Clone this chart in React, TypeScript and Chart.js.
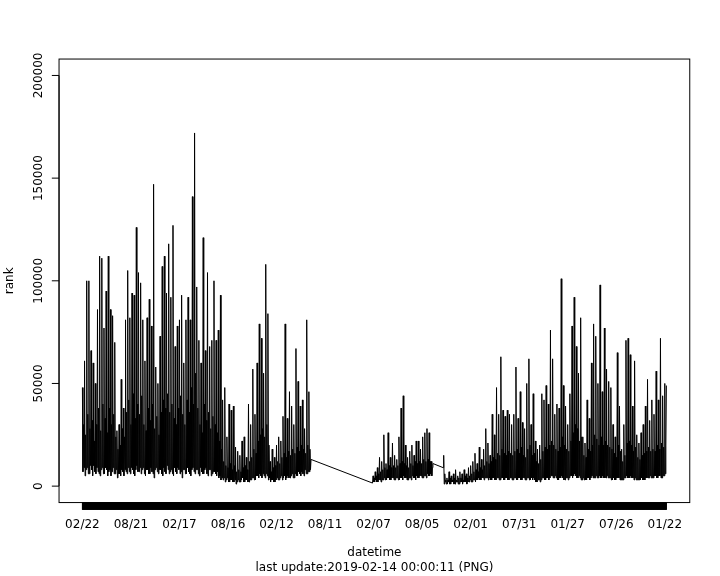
import { useEffect, useRef } from "react";
import { Chart, registerables } from "chart.js";

Chart.register(...registerables);

// ---- data (rank values in thousands, one point every 2 days) ----
const stepDays = 2;
const firstDay = 0; // 2013-02-22
const lastDay = 2166; // last day of the record

const segAStartDay = 0;
const segARank = [
  48, 7, 30, 9, 61, 5, 25, 8, 100, 9, 35, 6, 100, 6, 28, 10, 66, 8, 32, 5,
  60, 10, 22, 7, 50, 6, 30, 9, 86, 7, 38, 6, 112, 5, 27, 8, 111, 9, 40, 6,
  77, 6, 33, 9, 95, 8, 26, 5, 112, 7, 38, 8, 86, 5, 30, 7, 83, 9, 35, 6,
  70, 6, 24, 8, 27, 4, 18, 6, 30, 6, 20, 5, 52, 8, 28, 7, 38, 5, 24, 8,
  81, 7, 36, 6, 105, 9, 42, 7, 82, 6, 30, 9, 94, 8, 45, 6, 93, 5, 33, 8,
  126, 10, 40, 7, 104, 7, 35, 9, 99, 6, 44, 8, 81, 9, 30, 6, 61, 5, 27, 8,
  82, 8, 38, 6, 91, 6, 32, 9, 78, 7, 40, 6, 147, 4, 28, 8, 58, 9, 34, 7,
  50, 6, 25, 8, 73, 8, 36, 6, 107, 5, 42, 9, 112, 7, 38, 6, 94, 10, 45, 8,
  118, 6, 36, 7, 92, 8, 40, 6, 127, 5, 33, 9, 68, 7, 30, 6, 78, 9, 38, 8,
  81, 6, 44, 7, 93, 4, 35, 8, 60, 8, 30, 6, 81, 6, 42, 9, 92, 7, 36, 6,
  81, 5, 48, 8, 141, 9, 40, 7, 172, 6, 55, 8, 97, 8, 38, 6, 71, 5, 30, 9,
  60, 7, 26, 6, 121, 6, 40, 8, 66, 9, 32, 6, 104, 5, 36, 8, 68, 8, 28, 5,
  71, 6, 34, 7, 100, 7, 30, 6, 71, 5, 26, 7, 76, 4, 22, 5, 93, 3, 18, 4,
  42, 3, 12, 4, 48, 2, 10, 3, 24, 4, 9, 2, 40, 2, 11, 3, 37, 3, 8, 2,
  39, 2, 10, 3, 19, 1, 7, 2, 17, 3, 8, 2, 15, 2, 7, 3, 22, 4, 9, 2,
  24, 2, 10, 3, 14, 3, 8, 2, 40, 2, 12, 3, 30, 3, 14, 4, 57, 4, 18, 3,
  35, 3, 16, 5, 60, 5, 22, 4, 79, 6, 25, 5, 72, 4, 28, 6, 55, 5, 24, 4,
  108, 6, 30, 5, 84, 3, 20, 4, 12, 2, 7, 3, 18, 3, 9, 2, 14, 2, 10, 3,
  20, 4, 12, 3, 24, 3, 11, 4, 22, 5, 14, 3, 34, 4, 16, 5, 79, 3, 14, 4,
  33, 5, 17, 4, 46, 4, 15, 5, 39, 6, 18, 4, 30, 4, 16, 6, 67, 5, 19, 5,
  51, 7, 17, 6, 39, 5, 20, 7, 42, 6, 18, 5, 28, 8, 16, 6, 81, 6, 20, 7,
  46, 7, 18, 8, 13,
];

const segBStartDay = 1076;
const segBRank = [
  1.5, 5, 2, 4, 2, 7, 3, 5, 2, 9, 2, 6, 3, 14, 3, 7, 2, 12, 3, 8, 3,
  25, 4, 9, 3, 11, 3, 8, 4, 26, 4, 10, 3, 14, 3, 9, 4, 21, 4, 10, 3,
  15, 3, 9, 4, 13, 4, 10, 3, 24, 3, 11, 4, 38, 4, 12, 3, 44, 5, 11, 4,
  20, 4, 10, 3, 14, 3, 9, 4, 17, 4, 11, 3, 20, 5, 10, 4, 15, 4, 12, 3,
  22, 5, 11, 4, 22, 4, 12, 5, 18, 5, 11, 4, 24, 4, 13, 5, 26, 5, 12, 4,
  28, 6, 13, 5, 26, 5, 12, 6, 12, 5, 9, 11,
];

const segCStartDay = 1338;
const segCRank = [
  9, 15,
  1, 6, 2, 3, 1, 4, 1, 3, 2, 7, 1, 4, 1, 5, 2, 3, 2, 6, 1, 4,
  1, 8, 2, 3, 2, 5, 1, 4, 1, 7, 2, 4, 2, 6, 1, 3, 2, 8, 2, 5,
  2, 6, 1, 4, 2, 9, 2, 5, 3, 10, 2, 6, 2, 12, 3, 7, 3, 16, 2, 8,
  3, 11, 3, 7, 4, 19, 3, 9, 3, 13, 4, 8, 4, 18, 3, 10, 4, 28, 4, 12,
  4, 21, 3, 11, 4, 15, 3, 12, 3, 35, 4, 14, 4, 25, 3, 13, 3, 48, 4, 16,
  4, 35, 3, 15, 3, 63, 4, 18, 4, 37, 3, 16, 3, 34, 4, 15, 4, 37, 3, 17,
  3, 35, 4, 16, 4, 30, 3, 15, 3, 35, 4, 17, 4, 58, 3, 18, 3, 33, 4, 16,
  4, 46, 3, 19, 3, 31, 4, 15, 4, 28, 3, 14, 3, 50, 4, 18, 4, 62, 3, 20,
  3, 30, 4, 15, 3, 45, 4, 16, 3, 22, 2, 12, 2, 18, 3, 11, 3, 20, 2, 13,
  3, 45, 4, 17, 4, 42, 3, 19, 3, 49, 4, 18, 4, 40, 3, 20, 4, 76, 5, 22,
  5, 62, 4, 20, 4, 35, 5, 18, 4, 40, 3, 17, 3, 38, 4, 19, 4, 101, 5, 24,
  4, 49, 3, 20, 3, 39, 4, 18, 4, 30, 3, 17, 4, 45, 5, 22, 5, 78, 4, 26,
  5, 92, 6, 30, 5, 68, 4, 28, 4, 55, 5, 22, 4, 82, 3, 24, 3, 24, 4, 15,
  3, 21, 3, 14, 3, 42, 4, 18, 4, 33, 3, 17, 4, 60, 5, 20, 4, 79, 4, 25,
  4, 73, 5, 23, 4, 50, 4, 20, 5, 98, 4, 24, 4, 46, 5, 20, 4, 77, 4, 22,
  4, 57, 5, 20, 4, 51, 4, 19, 4, 48, 3, 18, 3, 30, 4, 16, 3, 24, 3, 14,
  4, 65, 4, 20, 4, 39, 3, 17, 3, 18, 3, 12, 3, 30, 4, 15, 4, 71, 5, 21,
  4, 72, 4, 22, 4, 64, 5, 20, 4, 39, 4, 17, 3, 61, 4, 19, 3, 25, 3, 14,
  3, 21, 3, 13, 3, 26, 4, 15, 3, 30, 3, 16, 3, 39, 4, 17, 4, 52, 4, 19,
  4, 32, 5, 17, 4, 42, 4, 18, 4, 35, 5, 17, 5, 56, 4, 20, 4, 42, 5, 18,
  5, 72, 4, 21, 4, 44, 5, 19, 5, 50, 6, 20,
  49,
];

const rankUnit = 1000;

// ---- axes ----
const xTickStepDays = 180;
const xTickLabels = [
  "02/22", "08/21", "02/17", "08/16", "02/12", "08/11", "02/07",
  "08/05", "02/01", "07/31", "01/27", "07/26", "01/22",
];
const yTickValues = [0, 50000, 100000, 150000, 200000];
const yLimits = [0, 200000];
const xTitle = "datetime";
const yTitle = "rank";
const subTitle = "last update:2019-02-14 00:00:11 (PNG)";

const FONT = '12px "DejaVu Sans"';
const LINE = 14.4; // R margin line height in px
const TCL = 7.2; // tick length

function buildPoints() {
  const segs: [number, number[]][] = [
    [segAStartDay, segARank],
    [segBStartDay, segBRank],
    [segCStartDay, segCRank],
  ];
  const pts: { x: number; y: number }[] = [];
  for (const [start, vals] of segs) {
    vals.forEach((v, i) => pts.push({ x: start + i * stepDays, y: v * rankUnit }));
  }
  return pts;
}

const rAxesPlugin = {
  id: "rAxes",
  afterDraw(chart: any) {
    const { ctx, chartArea: a } = chart;
    const xs = chart.scales.x;
    const ys = chart.scales.y;
    ctx.save();
    ctx.strokeStyle = "#000";
    ctx.fillStyle = "#000";
    ctx.lineWidth = 1;
    // box
    ctx.strokeRect(a.left, a.top, a.right - a.left, a.bottom - a.top);

    // x axis: daily ticks (dense rug) + axis line
    ctx.beginPath();
    for (let d = firstDay; d <= lastDay; d++) {
      const px = xs.getPixelForValue(d);
      ctx.moveTo(px, a.bottom);
      ctx.lineTo(px, a.bottom + TCL);
    }
    ctx.moveTo(xs.getPixelForValue(firstDay), a.bottom);
    ctx.lineTo(xs.getPixelForValue(lastDay), a.bottom);
    ctx.stroke();

    ctx.font = FONT;
    ctx.textAlign = "center";
    ctx.textBaseline = "alphabetic";
    xTickLabels.forEach((lab, i) => {
      const px = xs.getPixelForValue(firstDay + i * xTickStepDays);
      ctx.fillText(lab, px, a.bottom + LINE + 10.7);
    });

    // y axis
    ctx.beginPath();
    yTickValues.forEach((v) => {
      const py = ys.getPixelForValue(v);
      ctx.moveTo(a.left, py);
      ctx.lineTo(a.left - TCL, py);
    });
    ctx.moveTo(a.left, ys.getPixelForValue(yTickValues[0]));
    ctx.lineTo(a.left, ys.getPixelForValue(yTickValues[yTickValues.length - 1]));
    ctx.stroke();

    yTickValues.forEach((v) => {
      const py = ys.getPixelForValue(v);
      ctx.save();
      ctx.translate(a.left - LINE - 3, py);
      ctx.rotate(-Math.PI / 2);
      ctx.fillText(String(v), 0, 0);
      ctx.restore();
    });

    // titles
    const cx = (a.left + a.right) / 2;
    const cy = (a.top + a.bottom) / 2;
    ctx.fillText(xTitle, cx, a.bottom + 3 * LINE + 10.7);
    ctx.fillText(subTitle, cx, a.bottom + 4 * LINE + 10.7);
    ctx.save();
    ctx.translate(a.left - 3 * LINE - 3, cy);
    ctx.rotate(-Math.PI / 2);
    ctx.fillText(yTitle, 0, 0);
    ctx.restore();

    ctx.restore();
  },
};

export default function App() {
  const ref = useRef<HTMLCanvasElement | null>(null);
  useEffect(() => {
    if (!ref.current) return;
    const span = lastDay - firstDay;
    const ySpan = yLimits[1] - yLimits[0];
    const chart = new Chart(ref.current, {
      type: "line",
      data: {
        datasets: [
          {
            data: buildPoints(),
            borderColor: "#000",
            borderWidth: 1,
            pointRadius: 0,
            tension: 0,
            fill: false,
          },
        ],
      },
      options: {
        animation: false,
        responsive: false,
        devicePixelRatio: 1,
        parsing: false as any,
        layout: {
          padding: { left: 4.1 * LINE, right: 2.1 * LINE, top: 4.1 * LINE, bottom: 5.1 * LINE },
        },
        plugins: { legend: { display: false }, tooltip: { enabled: false } },
        scales: {
          x: {
            type: "linear",
            display: false,
            min: firstDay - 0.04 * span,
            max: lastDay + 0.04 * span,
          },
          y: {
            type: "linear",
            display: false,
            min: yLimits[0] - 0.04 * ySpan,
            max: yLimits[1] + 0.04 * ySpan,
          },
        },
      },
      plugins: [rAxesPlugin],
    });
    return () => chart.destroy();
  }, []);
  return (
    <div style={{ position: "absolute", left: 0, top: 0, width: 720, height: 576, background: "#fff" }}>
      <canvas ref={ref} width={720} height={576} style={{ display: "block" }} />
    </div>
  );
}
